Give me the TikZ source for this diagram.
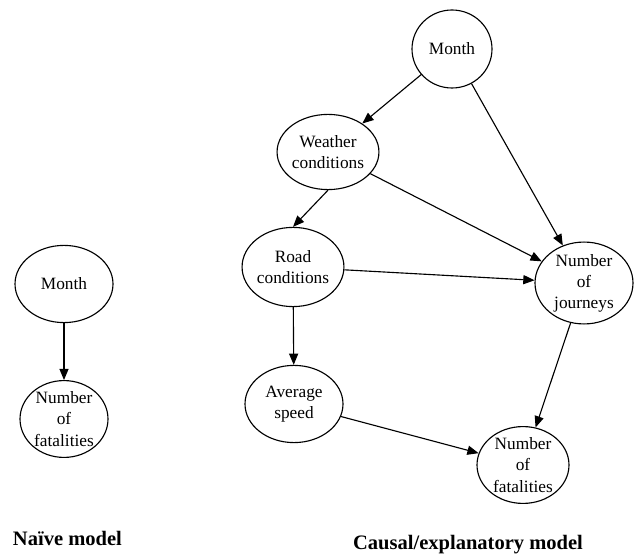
\documentclass[tikz,border=0pt]{standalone}
\usepackage{fontspec}
\setmainfont{Liberation Serif}
\usetikzlibrary{shapes.geometric,arrows.meta}
\begin{document}
\begin{tikzpicture}[
  var/.style={ellipse,draw,thick,align=center,inner sep=0pt,
    minimum width=2.43cm,minimum height=1.93cm,font=\fontsize{12.3}{15}\selectfont},
  link/.style={thick,-{Triangle[length=8pt,width=6.5pt]}},
  caption/.style={font=\fontsize{14.6}{17}\selectfont\bfseries}]
\useasboundingbox (0,0) rectangle (15.9,-13.975);
% naive model
\node[var,minimum width=2.45cm] (nmonth) at (1.6,-7.1) {Month};
\node[var,minimum width=2.2cm,minimum height=1.8cm] (nfatal) at (1.6,-10.475) {Number\\of\\fatalities};
\draw[link] (nmonth) -- (nfatal);
\node[caption,anchor=west] (ncap) at (0.2,-13.45) {Naïve model};
% causal model
\node[var,minimum width=2cm,minimum height=1.95cm] (month) at (11.3,-1.225) {Month};
\node[var,minimum height=1.88cm] (weather) at (8.2,-3.8) {Weather\\conditions};
\node[var,minimum height=1.98cm] (road) at (7.325,-6.675) {Road\\conditions};
\node[var,minimum width=2.45cm,minimum height=1.98cm] (journeys) at (14.6,-7.075) {Number\\of\\journeys};
\node[var,minimum width=2.45cm] (speed) at (7.35,-10.1) {Average\\speed};
\node[var,minimum width=2.3cm,minimum height=1.9cm] (fatal) at (13.075,-11.625) {Number\\of\\fatalities};
\draw[link] (month) -- (weather);
\draw[link] (month) -- (journeys);
\draw[link] (weather.south) -- (road.north);
\draw[link] (weather) -- (journeys);
\draw[link] (road) -- (journeys);
\draw[link] (road) -- (speed);
\draw[link] (speed) -- (fatal);
\draw[link] (journeys) -- (fatal);
\node[caption] (ccap) at (11.7,-13.62) {Causal/explanatory model};
\end{tikzpicture}
\end{document}
